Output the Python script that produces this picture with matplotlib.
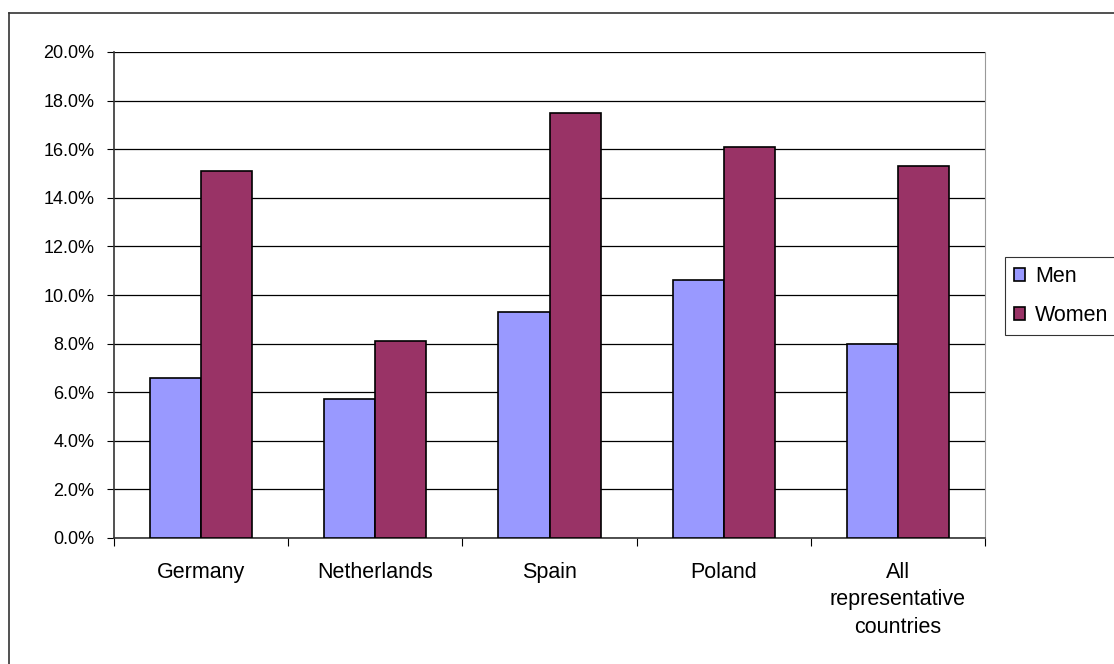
import numpy as np
import matplotlib.pyplot as plt
from matplotlib.ticker import FuncFormatter, MultipleLocator, FixedLocator
from matplotlib.lines import Line2D

plt.rcParams['font.family'] = ['Liberation Sans', 'DejaVu Sans']

# Share of respondents per country, in percent
countries = ['Germany', 'Netherlands', 'Spain', 'Poland', 'All\nrepresentative\ncountries']
men = [6.6, 5.7, 9.3, 10.6, 8.0]
women = [15.1, 8.1, 17.5, 16.1, 15.3]

fig = plt.figure(figsize=(11.14, 6.64), dpi=100)
ax = fig.add_axes([114 / 1114, 126 / 664, 871 / 1114, 486 / 664])

x = np.arange(len(countries))
w = 0.293
ax.bar(x - w / 2, men, w, color='#9999FF', edgecolor='black', linewidth=1.2, label='Men', zorder=3)
ax.bar(x + w / 2, women, w, color='#993366', edgecolor='black', linewidth=1.2, label='Women', zorder=3)

ax.set_xlim(-0.5, len(countries) - 0.5)
ax.set_ylim(0, 20)
ax.yaxis.set_major_locator(MultipleLocator(2))
ax.yaxis.set_major_formatter(FuncFormatter(lambda v, p: f'{v:.1f}%'))
ax.yaxis.grid(True, color='black', linewidth=0.9, zorder=0)
ax.tick_params(axis='y', direction='out', length=5, width=0.8, pad=9, labelsize=13)

# category boundaries carry the tick marks, labels sit between them
ax.xaxis.set_major_locator(FixedLocator(np.arange(len(countries) + 1) - 0.5))
ax.xaxis.set_major_formatter(FuncFormatter(lambda v, p: ''))
ax.xaxis.set_minor_locator(FixedLocator(x))
ax.set_xticklabels(countries, minor=True)
ax.tick_params(axis='x', which='major', direction='out', length=6, width=0.8)
ax.tick_params(axis='x', which='minor', length=0, pad=17, labelsize=15.5)
for lbl in ax.get_xticklabels(minor=True):
    lbl.set_linespacing(1.42)
    lbl.set_verticalalignment('top')

ax.spines['top'].set_visible(False)
ax.spines['right'].set_color('#999999')
ax.spines['right'].set_linewidth(0.8)
ax.spines['left'].set_color('#333333')
ax.spines['left'].set_linewidth(1.2)
ax.spines['bottom'].set_color('#333333')
ax.spines['bottom'].set_linewidth(1.2)

leg = fig.legend(loc='upper left', bbox_to_anchor=(1005 / 1114, 1 - 257 / 664),
                 frameon=True, fancybox=False, edgecolor='black', fontsize=15.5,
                 handlelength=0.52, handleheight=0.52, handletextpad=0.47,
                 labelspacing=0.83, borderpad=0.42, borderaxespad=0)
leg.get_frame().set_linewidth(0.8)

# chart area border (left and top edges)
fig.add_artist(Line2D([9 / 1114, 9 / 1114], [0, 1 - 13 / 664], color='#333333', linewidth=1.2))
fig.add_artist(Line2D([9 / 1114, 1], [1 - 13 / 664, 1 - 13 / 664], color='#333333', linewidth=1.2))

fig.savefig('out.png', dpi=100)
